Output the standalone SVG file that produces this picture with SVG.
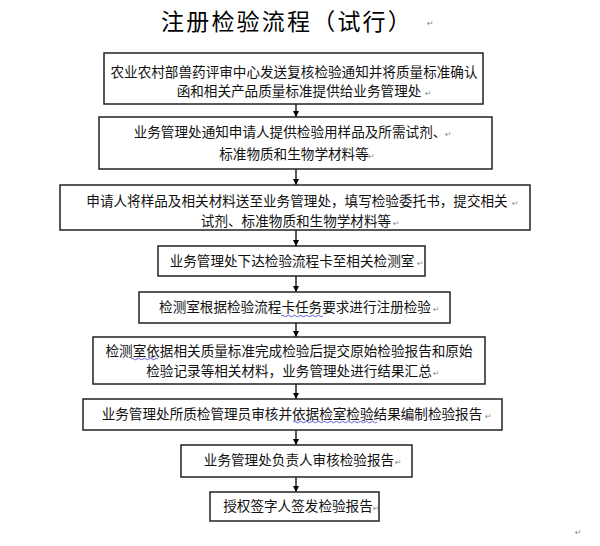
<svg xmlns="http://www.w3.org/2000/svg" width="600" height="546" viewBox="0 0 600 546">
<defs>
<marker id="ah" viewBox="0 0 6 6" refX="6" refY="3" markerWidth="6" markerHeight="6" markerUnits="userSpaceOnUse" orient="auto">
<path d="M0,0 L6,3 L0,6 Z" fill="#000"/>
</marker>
<style>
.box{fill:#fff;stroke:#222;stroke-width:1.5}
.t{font-family:"Noto Sans CJK SC","Noto Sans CJK JP",sans-serif;font-size:13.6px;fill:#111;text-anchor:middle}
.title{font-family:"Noto Sans CJK SC",sans-serif;font-size:23px;fill:#000;letter-spacing:2.2px}
.pm{font-family:"DejaVu Sans",sans-serif;font-size:8px;fill:#888}
.c{stroke:#000;stroke-width:1.3;fill:none;marker-end:url(#ah)}
.w{stroke:#3a3ad0;stroke-width:0.8;fill:none}
</style>
</defs>
<rect width="600" height="546" fill="#fff"/>
<text class="title" x="161" y="30">注册检验流程（试行）</text>
<text class="pm" x="427" y="26">↵</text>

<g id="connectors">
<line class="c" x1="296" y1="104" x2="296" y2="117"/>
<line class="c" x1="296" y1="169" x2="296" y2="185"/>
<line class="c" x1="296" y1="230" x2="296" y2="246"/>
<line class="c" x1="296" y1="276" x2="296" y2="292"/>
<line class="c" x1="296" y1="323" x2="296" y2="337"/>
<line class="c" x1="296" y1="384" x2="296" y2="399"/>
<line class="c" x1="296" y1="430" x2="296" y2="445"/>
<line class="c" x1="296" y1="477" x2="296" y2="492"/>
</g>

<g id="n1">
<rect class="box" x="104" y="53" width="379" height="51"/>
<text class="t" x="294" y="77">农业农村部兽药评审中心发送复核检验通知并将质量标准确认</text>
<text class="t" x="299" y="96">函和相关产品质量标准提供给业务管理处</text>
<text class="pm" x="425" y="96">↵</text>
</g>
<g id="n2">
<rect class="box" x="99" y="117" width="393" height="52"/>
<text class="t" x="290" y="137">业务管理处通知申请人提供检验用样品及所需试剂、</text>
<text class="t" x="294" y="159">标准物质和生物学材料等</text>
<text class="pm" x="445" y="137">↵</text>
<text class="pm" x="368" y="159">↵</text>
</g>
<g id="n3">
<rect class="box" x="60" y="185" width="470" height="45"/>
<text class="t" x="297" y="206">申请人将样品及相关材料送至业务管理处，填写检验委托书，提交相关</text>
<text class="t" x="296" y="226">试剂、标准物质和生物学材料等</text>
<text class="pm" x="512" y="206">↵</text>
<text class="pm" x="393" y="226">↵</text>
</g>
<g id="n4">
<rect class="box" x="158" y="246" width="267" height="30"/>
<text class="t" x="292" y="266">业务管理处下达检验流程卡至相关检测室</text>
<text class="pm" x="417" y="266">↵</text>
</g>
<g id="n5">
<rect class="box" x="139" y="292" width="311" height="31"/>
<text class="t" x="295" y="312">检测室根据检验流程卡任务要求进行注册检验</text>
<text class="pm" x="433" y="312">↵</text>
<path class="w" d="M281,316 q1.5,-1.5 3,0 t3,0 t3,0 t3,0 t3,0 t3,0 t3,0 t3,0 t3,0 t3,0 t3,0 t3,0 t3,0 t3,0"/>
</g>
<g id="n6">
<rect class="box" x="93" y="337" width="392" height="47"/>
<text class="t" x="289" y="356">检测室依据相关质量标准完成检验后提交原始检验报告和原始</text>
<text class="t" x="289" y="376">检验记录等相关材料，业务管理处进行结果汇总</text>
<text class="pm" x="433" y="376">↵</text>
<path class="w" d="M131,359 q1.5,-1.5 3,0 t3,0 t3,0 t3,0 t3,0 t3,0 t3,0 t3,0 t3,0"/>
</g>
<g id="n7">
<rect class="box" x="83" y="399" width="419" height="31"/>
<text class="t" x="292" y="419">业务管理处所质检管理员审核并依据检室检验结果编制检验报告</text>
<text class="pm" x="485" y="419">↵</text>
<path class="w" d="M293,422 q1.5,-1.5 3,0 t3,0 t3,0 t3,0 t3,0 t3,0 t3,0 t3,0 t3,0 t3,0 t3,0 t3,0 t3,0 t3,0 t3,0 t3,0 t3,0 t3,0 t3,0 t3,0 t3,0 t3,0 t3,0 t3,0 t3,0 t3,0 t3,0 t3,0"/>
</g>
<g id="n8">
<rect class="box" x="181" y="445" width="231" height="32"/>
<text class="t" x="299" y="465">业务管理处负责人审核检验报告</text>
<text class="pm" x="395" y="465">↵</text>
</g>
<g id="n9">
<rect class="box" x="210" y="492" width="169" height="29"/>
<text class="t" x="298" y="511">授权签字人签发检验报告</text>
<text class="pm" x="373" y="511">↵</text>
</g>
<text class="pm" x="575" y="535">↵</text>
</svg>
